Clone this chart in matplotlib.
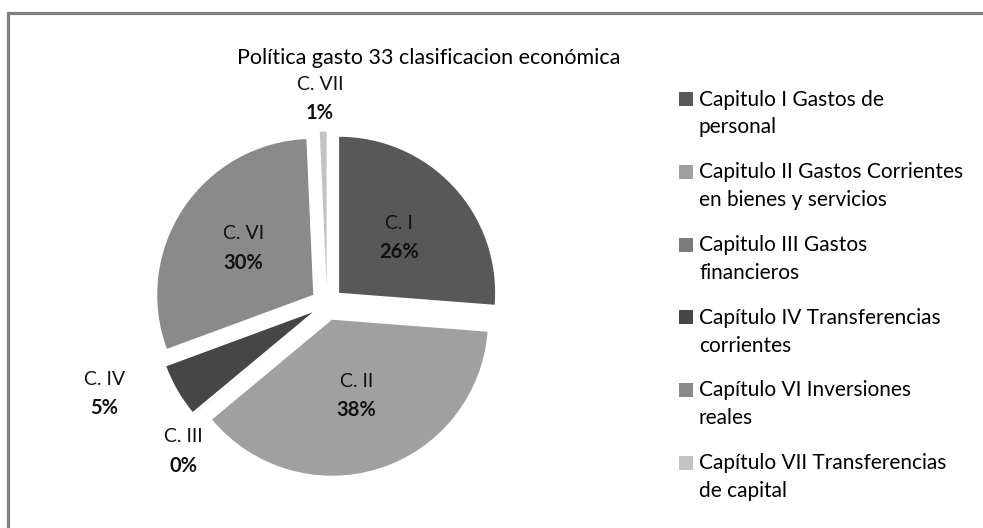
import matplotlib
matplotlib.use("Agg")
import matplotlib.pyplot as plt
from matplotlib.patches import Rectangle
import numpy as np

# ---- data ----
categories = ["C. I", "C. II", "C. III", "C. IV", "C. VI", "C. VII"]
values = [26.2, 37.7, 0.01, 5.4, 29.9, 0.7]
legend_labels = [
    "Capitulo I Gastos de\npersonal",
    "Capitulo II Gastos Corrientes\nen bienes y servicios",
    "Capitulo III Gastos\nfinancieros",
    "Capítulo IV Transferencias\ncorrientes",
    "Capítulo VI Inversiones\nreales",
    "Capítulo VII Transferencias\nde capital",
]
title = "Política gasto 33 clasificacion económica"

# ---- style ----
colors = ["#585858", "#a0a0a0", "#7b7b7b", "#464646", "#8a8a8a", "#c3c3c3"]
plt.rcParams["font.family"] = ["Lato", "DejaVu Sans"]

W, H = 983, 528
fig = plt.figure(figsize=(W / 100, H / 100), dpi=100)
ax = fig.add_axes([0, 0, 1, 1])

R = 156
center = (327, H - 304)
wedges, _ = ax.pie(values, colors=colors, startangle=90, counterclock=False,
                   radius=R, center=center, explode=[16.5] * len(values),
                   wedgeprops=dict(linewidth=0), frame=True)
ax.set_xlim(0, W)
ax.set_ylim(0, H)
ax.set_aspect("equal")
ax.axis("off")

# label placement (fraction of radius, angular nudge in degrees)
label_r = [0.52, 0.51, 1.214, 1.435, 0.54, 1.21]
label_nudge = [0, 0, 6.5, -8.7, 0, 0.8]
total = sum(values)
for w, name, v, lr, nd in zip(wedges, categories, values, label_r, label_nudge):
    th = np.deg2rad((w.theta1 + w.theta2) / 2 + nd)
    cx, cy = w.center
    x = cx + lr * R * np.cos(th)
    y = cy + lr * R * np.sin(th)
    ax.text(x, y + 14.5, name, ha="center", va="center", fontsize=14, color="#111111")
    ax.text(x, y - 14.5, f"{v / total * 100:.0f}%", ha="center", va="center",
            fontsize=14.5, fontweight="bold", color="#111111")

# title
ax.text(429, H - 64, title, ha="center", va="baseline", fontsize=15.5, color="black")

# legend (manual, handle aligned with first line)
for i, (lab, col) in enumerate(zip(legend_labels, colors)):
    base = 105.7 + 72.7 * i
    ax.add_patch(Rectangle((679, H - base - 0.5), 14, 14, facecolor=col, edgecolor="none"))
    for j, line in enumerate(lab.split("\n")):
        ax.text(699, H - base - 27.7 * j, line, ha="left", va="baseline",
                fontsize=15, color="black")

# frame
fig.patches.append(Rectangle((8 / W, -0.1), 2, 1.1 - 13 / H, transform=fig.transFigure,
                             fill=False, edgecolor="#808080", linewidth=2.3))

fig.savefig("out.png", dpi=100)
